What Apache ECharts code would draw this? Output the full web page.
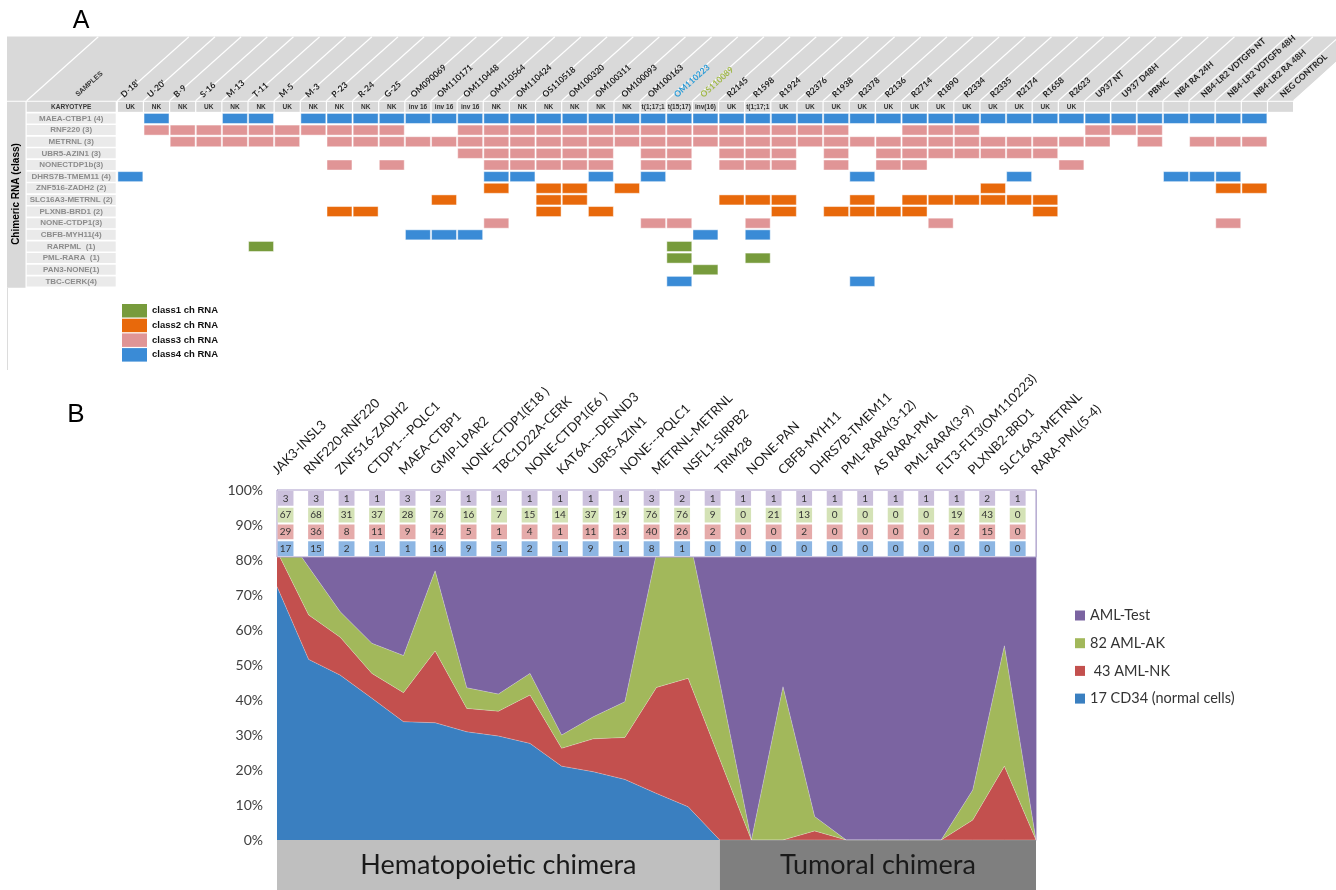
<!DOCTYPE html>
<html><head><meta charset="utf-8">
<script src="https://cdn.jsdelivr.net/npm/echarts@6/dist/echarts.min.js"></script>
<style>html,body{margin:0;padding:0;background:#fff}#c{width:1336px;height:890px}</style>
</head><body><div id="c"></div>
<script>
// ================= Panel A data =================
const samples = ["D-18'", "U-20'", 'B-9', 'S-16', 'M-13', 'T-11', 'M-5', 'M-3', 'P-23', 'R-24', 'G-25',
  'OM090069', 'OM110171', 'OM110448', 'OM110564', 'OM110424', 'OS110518', 'OM100320', 'OM100311',
  'OM100093', 'OM100163', 'OM110223', 'OS110089', 'R2145', 'R1598', 'R1924', 'R2376', 'R1938', 'R2378',
  'R2136', 'R2714', 'R1890', 'R2334', 'R2335', 'R2174', 'R1658', 'R2623', 'U937 NT', 'U937 D48H', 'PBMC',
  'NB4 RA 24H', 'NB4-LR2 VDTGFb NT', 'NB4-LR2 VDTGFb 48H', 'NB4-LR2 RA 48H', 'NEG CONTROL'];
const karyotype = ['UK', 'NK', 'NK', 'UK', 'NK', 'NK', 'UK', 'NK', 'NK', 'NK', 'NK', 'inv 16', 'inv 16', 'inv 16',
  'NK', 'NK', 'NK', 'NK', 'NK', 'NK', 't(1;17;15;', 't(15;17)', 'inv(16)', 'UK', 't(1;17;15;',
  'UK', 'UK', 'UK', 'UK', 'UK', 'UK', 'UK', 'UK', 'UK', 'UK', 'UK', 'UK',
  '', '', '', '', '', '', '', ''];
const chimeras = ['MAEA-CTBP1 (4)', 'RNF220 (3)', 'METRNL (3)', 'UBR5-AZIN1 (3)', 'NONECTDP1b(3)',
  'DHRS7B-TMEM11 (4)', 'ZNF516-ZADH2 (2)', 'SLC16A3-METRNL (2)', 'PLXNB-BRD1 (2)', 'NONE-CTDP1(3)',
  'CBFB-MYH11(4)', 'RARPML  (1)', 'PML-RARA  (1)', 'PAN3-NONE(1)', 'TBC-CERK(4)'];
const chimeraClass = [4, 3, 3, 3, 3, 4, 2, 2, 2, 3, 4, 1, 1, 1, 4];
// one string per chimera, one char per sample (groups of 5 samples)
const presence = [
  '01001 10111 11111 11111 11111 11111 11111 11111 11110',
  '01111 11111 10011 11111 11111 11100 11100 00111 00000',
  '00111 11011 11111 11111 11111 11111 11111 11101 01110',
  '00000 00000 00011 11110 11011 10101 11111 10000 00000',
  '00000 00010 10001 11110 11011 10101 10000 01000 00000',
  '10000 00000 00001 10010 10000 00010 00001 00000 11100',
  '00000 00000 00001 01101 00000 00000 00010 00000 00110',
  '00000 00000 00100 01100 00011 10010 11111 10000 00000',
  '00000 00011 00000 01010 00000 10111 10000 10000 00000',
  '00000 00000 00001 00000 11001 00000 01000 00000 00100',
  '00000 00000 01110 00000 00101 00000 00000 00000 00000',
  '00000 10000 00000 00000 01000 00000 00000 00000 00000',
  '00000 00000 00000 00000 01001 00000 00000 00000 00000',
  '00000 00000 00000 00000 00100 00000 00000 00000 00000',
  '00000 00000 00000 00000 01000 00010 00000 00000 00000'
];
const classNames = ['class1 ch RNA', 'class2 ch RNA', 'class3 ch RNA', 'class4 ch RNA'];

// ================= Panel B data =================
const fusions = ['JAK3-INSL3', 'RNF220-RNF220', 'ZNF516-ZADH2', 'CTDP1---PQLC1', 'MAEA-CTBP1', 'GMIP-LPAR2',
  'NONE-CTDP1(E18 )', 'TBC1D22A-CERK', 'NONE-CTDP1(E6 )', 'KAT6A---DENND3', 'UBR5-AZIN1', 'NONE---PQLC1',
  'METRNL-METRNL', 'NSFL1-SIRPB2', 'TRIM28', 'NONE-PAN', 'CBFB-MYH11', 'DHRS7B-TMEM11', 'PML-RARA(3-12)',
  'AS RARA-PML', 'PML-RARA(3-9)', 'FLT3-FLT3(OM110223)', 'PLXNB2-BRD1', 'SLC16A3-METRNL', 'RARA-PML(5-4)'];
const seriesNames = ['17 CD34 (normal cells)', ' 43 AML-NK', '82 AML-AK', 'AML-Test'];
// percentage shares (stacked to 100%)
const pctCD34 = [72.4, 51.6, 47.1, 40.5, 33.8, 33.5, 30.9, 29.7, 27.6, 21.1, 19.5, 17.3, 13.3, 9.5, 0, 0, 0, 0, 0, 0, 0, 0, 0, 0, 0];
const pctNK = [10.1, 12.7, 10.8, 7.1, 8.3, 20.5, 6.7, 7.1, 13.8, 5.1, 9.4, 12.0, 30.3, 36.7, 23.1, 0, 0, 2.6, 0, 0, 0, 0, 5.7, 21.1, 0];
const pctAK = [8.5, 13.7, 7.3, 8.6, 10.6, 22.9, 5.9, 4.9, 6.2, 3.8, 6.3, 10.2, 38.4, 41.8, 21.9, 0, 43.8, 4.1, 0, 0, 0, 0, 8.6, 34.4, 0];
const pctTest = [9.0, 22.0, 34.8, 43.8, 47.3, 23.1, 56.5, 58.3, 52.4, 70.0, 64.8, 60.5, 18.0, 12.0, 55.0, 100, 56.2, 93.3, 100, 100, 100, 100, 85.7, 44.5, 100];
// counts table (rows top to bottom)
const cntTest = [3, 3, 1, 1, 3, 2, 1, 1, 1, 1, 1, 1, 3, 2, 1, 1, 1, 1, 1, 1, 1, 1, 1, 2, 1];
const cntAK = [67, 68, 31, 37, 28, 76, 16, 7, 15, 14, 37, 19, 76, 76, 9, 0, 21, 13, 0, 0, 0, 0, 19, 43, 0];
const cntNK = [29, 36, 8, 11, 9, 42, 5, 1, 4, 1, 11, 13, 40, 26, 2, 0, 0, 2, 0, 0, 0, 0, 2, 15, 0];
const cntCD34 = [17, 15, 2, 1, 1, 16, 9, 5, 2, 1, 9, 1, 8, 1, 0, 0, 0, 0, 0, 0, 0, 0, 0, 0, 0];
const yTicks = [0, 10, 20, 30, 40, 50, 60, 70, 80, 90, 100];
const groupLabels = ['Hematopoietic chimera', 'Tumoral chimera'];
const groupStart = [0, 14];
const groupEnd = [14, 24];

// ================= styles =================
const classColors = ['#779b3c', '#e8690b', '#e09596', '#3a8bd6'];
const areaColors = ['#3a7fc0', '#c3504e', '#a2b85b', '#7b64a1'];
const tableColors = ['#cbc0dc', '#d4e2b6', '#e5abaa', '#8db6e3'];
const groupColors = ['#bfbfbf', '#7f7f7f'];
const sampleTextColor = {'OM110223': '#2a9bd6', 'OS110089': '#a1b84a'};
const DIAG_DX = 71.6, DIAG_DY = 64, SAMPLE_ROT = 42 * Math.PI / 180;

const rows = presence.map(s => s.replace(/ /g, ''));
const chart = echarts.init(document.getElementById('c'), null, {renderer: 'canvas'});

function cellRender(color) {
  return function (params, api) {
    const p = api.coord([api.value(0), api.value(1)]);
    const s = api.size([1, 1]);
    return {
      type: 'rect',
      shape: {x: p[0] + 0.6, y: p[1] - s[1] / 2 + 0.8, width: s[0] - 1.2, height: s[1] - 1.6},
      style: {fill: color, stroke: 'rgba(255,255,255,0.45)', lineWidth: 1}
    };
  };
}

const classSeries = classNames.map((name, k) => {
  const data = [];
  rows.forEach((row, r) => {
    if (chimeraClass[r] !== k + 1) return;
    for (let c = 0; c < row.length; c++) if (row[c] === '1') data.push([c, r + 1]);
  });
  return {
    type: 'custom', name: name, xAxisIndex: 0, yAxisIndex: 0,
    itemStyle: {color: classColors[k]}, color: classColors[k],
    encode: {x: 0, y: 1}, data: data, renderItem: cellRender(classColors[k])
  };
});

const tableRows = [cntTest, cntAK, cntNK, cntCD34];
const tableData = [];
tableRows.forEach((arr, r) => arr.forEach((v, i) => tableData.push([i, r, v])));

const areaData = [pctCD34, pctNK, pctAK, pctTest];

const option = {
  animation: false,
  backgroundColor: '#ffffff',
  textStyle: {fontFamily: 'Liberation Sans'},
  grid: [
    {left: 117.3, top: 101, width: 1176.3, height: 186.2, outerBoundsMode: 'none', containLabel: false},
    {left: 277, top: 490, width: 759, height: 350, outerBoundsMode: 'none', containLabel: false},
    {left: 277, top: 490, width: 759, height: 67, show: true, backgroundColor: '#ffffff', borderColor: '#a99bc9', borderWidth: 1, z: 10, outerBoundsMode: 'none', containLabel: false},
    {left: 277, top: 840, width: 759, height: 50, outerBoundsMode: 'none', containLabel: false}
  ],
  xAxis: [
    {gridIndex: 0, type: 'value', min: 0, max: 45, interval: 1, position: 'top',
      axisLine: {show: false}, axisTick: {show: false}, splitLine: {show: false}, axisLabel: {show: false}},
    {gridIndex: 1, type: 'category', data: fusions, boundaryGap: false, position: 'top',
      axisLine: {show: false}, axisTick: {show: false}, splitLine: {show: false},
      axisLabel: {interval: 0, rotate: 45, align: 'left', verticalAlign: 'bottom', margin: 11, padding: [0, 0, 0, 3],
        fontSize: 13, color: '#1a1a1a', fontFamily: 'Lato'}},
    {gridIndex: 2, type: 'value', min: -0.28, max: 24.6, show: false},
    {gridIndex: 3, type: 'value', min: 0, max: 24, show: false}
  ],
  yAxis: [
    {gridIndex: 0, type: 'category', data: ['KARYOTYPE'].concat(chimeras), inverse: true,
      axisLine: {show: false}, axisTick: {show: false}, splitLine: {show: false},
      axisLabel: {interval: 0, margin: 1.6,
        formatter: (v, i) => (i === 0 ? '{k|' + v + '}' : '{r|' + v + '}'),
        rich: {
          k: {width: 89, height: 10, lineHeight: 10, align: 'center', backgroundColor: '#d9d9d9', color: '#3a3a3a', fontSize: 6.5, fontWeight: 'bold', fontFamily: 'Liberation Sans'},
          r: {width: 89, height: 10, lineHeight: 10, align: 'center', backgroundColor: '#eaeaea', color: '#8c8c8c', fontSize: 8, fontWeight: 'bold', fontFamily: 'Liberation Sans'}
        }}},
    {gridIndex: 1, type: 'value', min: yTicks[0], max: yTicks[yTicks.length - 1], interval: 10,
      axisLine: {show: true, lineStyle: {color: '#bfbfbf'}}, axisTick: {show: false}, splitLine: {show: false},
      axisLabel: {formatter: '{value}%', fontSize: 14, color: '#404040', fontFamily: 'Lato', margin: 14}},
    {gridIndex: 1, type: 'value', position: 'right', min: 0, max: 100, interval: 10,
      axisLine: {show: true, lineStyle: {color: '#c9c2dc'}}, axisTick: {show: true, inside: true, length: 4, lineStyle: {color: '#b9b0d2'}},
      axisLabel: {show: false}, splitLine: {show: false}},
    {gridIndex: 2, type: 'value', min: 0, max: 4, inverse: true, show: false},
    {gridIndex: 3, type: 'value', min: 0, max: 1, show: false}
  ],
  legend: [
    {data: classNames, orient: 'vertical', left: 117, top: 299, itemWidth: 25, itemHeight: 13.5, itemGap: 1.2,
      icon: 'rect', selectedMode: false,
      textStyle: {fontSize: 9.5, fontWeight: 'bold', color: '#111', fontFamily: 'Liberation Sans'}},
    {data: ['AML-Test', '82 AML-AK', ' 43 AML-NK', '17 CD34 (normal cells)'], orient: 'vertical', left: 1070, top: 603,
      itemWidth: 10, itemHeight: 10, itemGap: 12.7, icon: 'rect', selectedMode: false,
      textStyle: {fontSize: 14.5, color: '#333', fontFamily: 'Lato'}}
  ],
  graphic: [
    {type: 'polygon', shape: {points: [[7, 36.5], [1336, 36.5], [1336, 61.7], [1293.6, 100.7], [7, 100.7]]}, style: {fill: '#d9d9d9'}},
    {type: 'line', shape: {x1: 26.7, y1: 100.7, x2: 26.7 + DIAG_DX, y2: 100.7 - DIAG_DY}, style: {stroke: '#fff', lineWidth: 1.2}, z: 3},
    {type: 'text', x: 79, y: 98, rotation: SAMPLE_ROT, style: {text: 'SAMPLES', font: 'bold 7px Liberation Sans', fill: '#333', align: 'left', verticalAlign: 'bottom'}},
    {type: 'rect', shape: {x: 7, y: 101.8, width: 18.5, height: 186}, style: {fill: '#d9d9d9'}},
    {type: 'text', x: 16.5, y: 194, rotation: Math.PI / 2, style: {text: 'Chimeric RNA (class)', font: 'bold 10px Liberation Sans', fill: '#000', align: 'center', verticalAlign: 'middle'}},
    {type: 'line', shape: {x1: 7.5, y1: 288, x2: 7.5, y2: 370}, style: {stroke: '#dcdcdc', lineWidth: 1}},
    {type: 'text', x: 81, y: 21, style: {text: 'A', font: '25px Liberation Sans', fill: '#000', align: 'center', verticalAlign: 'middle'}},
    {type: 'text', x: 76, y: 415, style: {text: 'B', font: '26px Liberation Sans', fill: '#000', align: 'center', verticalAlign: 'middle'}}
  ],
  series: [
    {type: 'custom', name: 'karyotype', xAxisIndex: 0, yAxisIndex: 0, encode: {x: 0, y: 1},
      data: karyotype.map((k, i) => [i, 0, k]),
      renderItem: function (params, api) {
        const p = api.coord([api.value(0), 0]);
        const s = api.size([1, 1]);
        const txt = karyotype[params.dataIndex];
        return {type: 'group', children: [
          {type: 'rect', shape: {x: p[0] + 0.6, y: p[1] - s[1] / 2 + 0.8, width: s[0] - 1.2, height: s[1] - 1.6}, style: {fill: '#d9d9d9'}},
          {type: 'text', x: p[0] + s[0] / 2, y: p[1], style: {text: txt, font: 'bold 6.5px Liberation Sans', fill: '#333',
            align: 'center', verticalAlign: 'middle', width: s[0] - 1, overflow: 'truncate', ellipsis: ''}}
        ]};
      }},
    {type: 'custom', name: 'sampleHeader', xAxisIndex: 0, yAxisIndex: 0, encode: {x: 0, y: 1}, clip: false, z: 4,
      data: samples.map((s, i) => [i, 0]).concat([[samples.length, 0]]),
      renderItem: function (params, api) {
        const i = params.dataIndex;
        const x = api.coord([api.value(0), 0])[0];
        const y0 = params.coordSys.y - 0.3;
        const children = [{type: 'line', shape: {x1: x, y1: y0, x2: x + DIAG_DX, y2: y0 - DIAG_DY}, style: {stroke: '#ffffff', lineWidth: 1.2}}];
        const name = samples[i];
        if (name) {
          children.push({type: 'text', x: x + 8 + 0.2 * i, y: y0 - 1.5, rotation: SAMPLE_ROT,
            style: {text: name, font: 'bold 8.5px Lato', fill: sampleTextColor[name] || '#1f1f1f', align: 'left', verticalAlign: 'bottom'}});
        }
        return {type: 'group', children: children};
      }}
  ].concat(classSeries).concat(seriesNames.map((name, k) => ({
    type: 'line', name: name, xAxisIndex: 1, yAxisIndex: 1, stack: 'total', data: areaData[k],
    showSymbol: false, symbol: 'none', color: areaColors[k],
    itemStyle: {color: areaColors[k]},
    lineStyle: {width: 0.8, color: 'rgba(255,255,255,0.35)'},
    areaStyle: {color: areaColors[k], opacity: 1}
  }))).concat([
    {type: 'custom', name: 'table', xAxisIndex: 2, yAxisIndex: 3, encode: {x: 0, y: 1}, z: 12,
      data: tableData,
      renderItem: function (params, api) {
        const i = api.value(0), r = api.value(1);
        const c = api.coord([i, r + 0.5]);
        const s = api.size([1, 1]);
        const w = s[0] * 0.52, h = s[1] * 0.88;
        return {type: 'group', children: [
          {type: 'rect', shape: {x: c[0] - w / 2, y: c[1] - h / 2, width: w, height: h}, style: {fill: tableColors[r]}},
          {type: 'text', x: c[0], y: c[1], style: {text: String(api.value(2)), font: '10px Lato', fill: '#333', align: 'center', verticalAlign: 'middle'}}
        ]};
      }},
    {type: 'custom', name: 'groups', xAxisIndex: 3, yAxisIndex: 4, encode: {x: [0, 1], y: 0},
      data: groupLabels.map((l, i) => [groupStart[i], groupEnd[i]]),
      renderItem: function (params, api) {
        const a = api.coord([api.value(0), 1]);
        const b = api.coord([api.value(1), 0]);
        const idx = params.dataIndex;
        return {type: 'group', children: [
          {type: 'rect', shape: {x: a[0], y: a[1], width: b[0] - a[0], height: b[1] - a[1]}, style: {fill: groupColors[idx]}},
          {type: 'text', x: (a[0] + b[0]) / 2, y: (a[1] + b[1]) / 2, style: {text: groupLabels[idx], font: '27px Lato', fill: '#1a1a1a', align: 'center', verticalAlign: 'middle'}}
        ]};
      }}
  ])
};
chart.setOption(option);
</script></body></html>
